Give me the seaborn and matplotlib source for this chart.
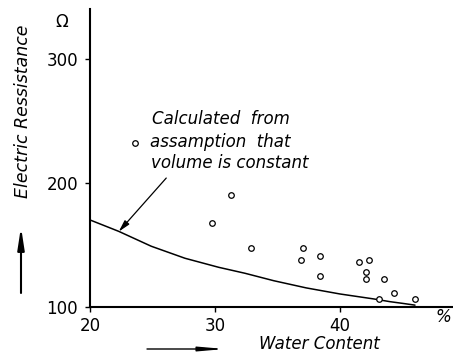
import matplotlib
matplotlib.use("Agg")
import matplotlib.pyplot as plt
import seaborn as sns
import pandas as pd

# measured points
water = [23.6, 29.8, 31.3, 32.9, 37.0, 36.9, 38.4, 38.4, 41.5, 42.3, 42.1, 42.1, 43.5, 44.3, 43.1, 46.0]
resist = [232.0, 167.5, 190.7, 147.3, 147.8, 137.9, 141.4, 124.8, 136.0, 137.9, 128.6, 122.6, 122.8, 111.5, 106.2, 106.5]

# calculated curve (constant volume)
curve_x = [20.0, 22.3, 24.9, 27.6, 30.3, 32.4, 34.7, 37.3, 40.0, 42.7, 44.0, 45.1, 46.0]
curve_y = [170.2, 161.0, 149.0, 139.3, 132.0, 127.2, 121.2, 115.4, 110.5, 106.5, 104.3, 102.8, 101.5]

x_ticks = [20, 30, 40]
y_ticks = [100, 200, 300]

sns.set_style("ticks")
plt.rcParams['font.family'] = ['DejaVu Sans']
plt.rcParams['text.color'] = 'black'
plt.rcParams['xtick.color'] = 'black'
plt.rcParams['ytick.color'] = 'black'
plt.rcParams['xtick.labelcolor'] = 'black'
plt.rcParams['ytick.labelcolor'] = 'black'

W, H = 453, 359
fig = plt.figure(figsize=(W / 100, H / 100), dpi=100)
ax = fig.add_axes([90 / W, 1 - 307 / H, (W - 90) / W, (307 - 9) / H])

pts = pd.DataFrame({"water": water, "resist": resist})
cur = pd.DataFrame({"water": curve_x, "resist": curve_y})

sns.lineplot(data=cur, x="water", y="resist", ax=ax, color="black", lw=1.1,
             sort=False, estimator=None)
sns.scatterplot(data=pts, x="water", y="resist", ax=ax, marker="o", s=16,
                facecolor="white", edgecolor="black", linewidth=0.9, zorder=3)

ax.set_xlim(20, 20 + (W - 90) / 12.5)
ax.set_ylim(100, 100 + (307 - 9) / 1.24)
ax.set_xticks(x_ticks)
ax.set_yticks(y_ticks)
ax.set_xticklabels([str(v) for v in x_ticks])
ax.set_yticklabels([str(v) for v in y_ticks])
ax.tick_params(axis="both", length=3.5, width=1.0, labelsize=12,
               color="black", labelcolor="black")
ax.tick_params(axis="x", pad=4)
ax.tick_params(axis="y", pad=5)
ax.set_xlabel("")
ax.set_ylabel("")
sns.despine(ax=ax)
for s in ["left", "bottom"]:
    ax.spines[s].set_linewidth(1.5)
    ax.spines[s].set_color("black")

# annotation
ax.annotate("", xy=(22.3, 160.8), xytext=(26.1, 204),
            arrowprops=dict(arrowstyle="-|>,head_length=0.7,head_width=0.18",
                            color="black", lw=0.9, shrinkA=0, shrinkB=0))

def fx(px):
    return px / W

def fy(py):
    return 1 - py / H

fs_note = 12
fig.text(fx(152), fy(119), "Calculated  from", fontsize=fs_note, style="italic",
         ha="left", va="center", color="black")
fig.text(fx(150), fy(141.5), "assamption  that", fontsize=fs_note, style="italic",
         ha="left", va="center", color="black")
fig.text(fx(151), fy(163.5), "volume is constant", fontsize=fs_note, style="italic",
         ha="left", va="center", color="black")

fig.text(fx(62), fy(22), "\u03a9", fontsize=12, ha="center", va="center", color="black")
fig.text(fx(443), fy(317), "%", fontsize=12, style="italic", ha="center", va="center",
         color="black")
fig.text(fx(23), fy(111), "Electric Ressistance", fontsize=12.5, style="italic",
         rotation=90, ha="center", va="center", color="black")
fig.text(fx(319), fy(344), "Water Content", fontsize=12, style="italic",
         ha="center", va="center", color="black")

# direction arrows
ax.annotate("", xy=(21, H - 227), xytext=(21, H - 293), xycoords="figure pixels",
            textcoords="figure pixels",
            arrowprops=dict(arrowstyle="-|>,head_length=1.3,head_width=0.2",
                            color="black", lw=1.5, shrinkA=0, shrinkB=0))
ax.annotate("", xy=(225, H - 349), xytext=(147, H - 349), xycoords="figure pixels",
            textcoords="figure pixels",
            arrowprops=dict(arrowstyle="-|>,head_length=1.5,head_width=0.13",
                            color="black", lw=1.0, shrinkA=0, shrinkB=0))

fig.savefig("out.png", dpi=100, facecolor="white")
